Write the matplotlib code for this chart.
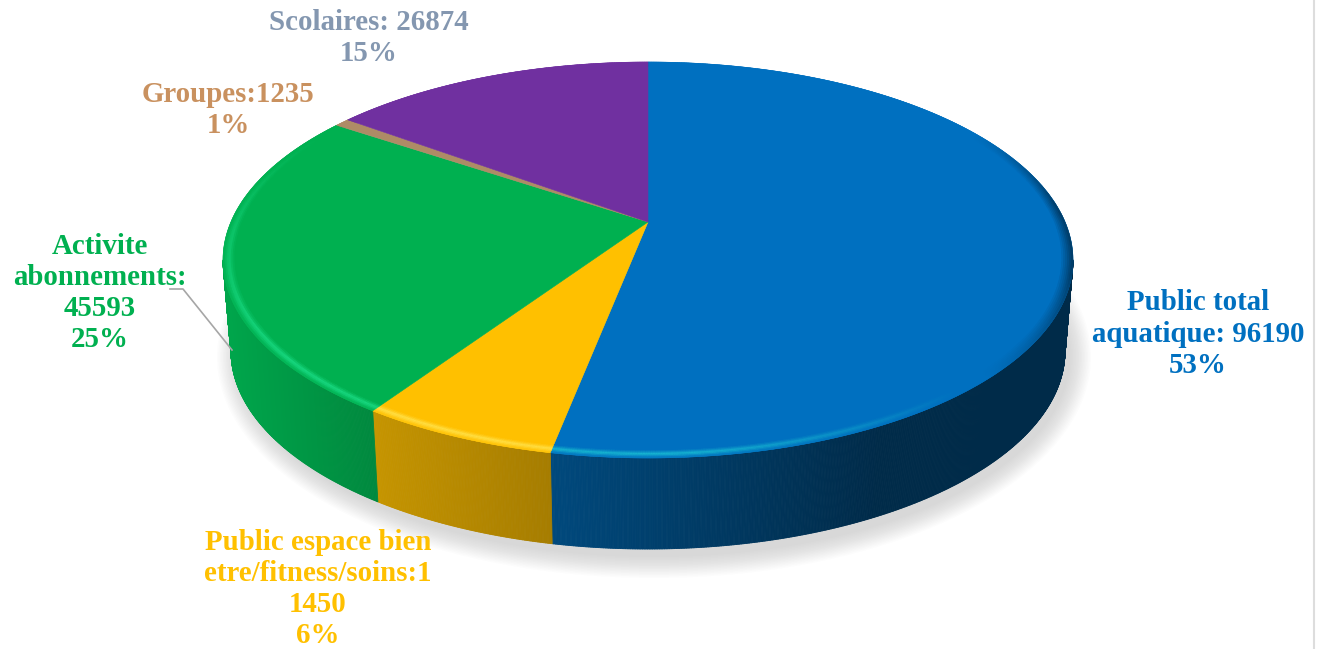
import numpy as np
import matplotlib
matplotlib.use("Agg")
import matplotlib.pyplot as plt
from matplotlib.collections import PolyCollection
from matplotlib.colors import to_rgb
from matplotlib.patches import Polygon

categories = ["Public total aquatique", "Public espace bien etre/fitness/soins",
              "Activite abonnements", "Groupes", "Scolaires"]
values = [96190, 11450, 45593, 1235, 26874]
slice_colors = ["#0070C0", "#FFC000", "#00B050", "#AE8B66", "#7030A0"]
label_texts = ["Public total\naquatique: 96190\n53%",
               "Public espace bien\netre/fitness/soins:1\n1450\n6%",
               "Activite\nabonnements:\n45593\n25%",
               "Groupes:1235\n1%",
               "Scolaires: 26874\n15%"]
label_colors = ["#0070C0", "#FFC000", "#00B050", "#C9915F", "#8497B0"]

plt.rcParams["font.family"] = ["Liberation Serif", "DejaVu Serif"]
fig = plt.figure(figsize=(13.2, 6.49), dpi=100)
ax = fig.add_axes([0, 0, 1, 1])
ax.set_xlim(0, 1320)
ax.set_ylim(649, 0)
ax.axis("off")

# perspective projection of the pie disc (pixel space)
CX, APEX_Y, TOP_Y, BOT_Y, RX = 648.0, 222.0, 62.0, 458.0, 425.0
k = (2 * APEX_Y - TOP_Y - BOT_Y) / (BOT_Y - TOP_Y)
b = BOT_Y * (1 + k) - APEX_Y
a = RX * np.sqrt(1 - k * k)
ELL_CY = (TOP_Y + BOT_Y) / 2
DEPTH = 91.0
WALL_SCALE = 417.0 / 425.0


def project(phi, r=1.0):
    X, Y = r * np.sin(phi), -r * np.cos(phi)
    w = 1 + k * Y
    return CX + a * X / w, (APEX_Y + b * Y) / w


def wall_base(phi):
    x, y = project(phi)
    return CX + (x - CX) * WALL_SCALE, y + DEPTH


edges = np.cumsum([0] + values) / sum(values) * 2 * np.pi

# soft shadow
t = np.linspace(0, 2 * np.pi, 361)
for s in np.arange(22, 0, -1.5):
    ax.add_patch(Polygon(np.c_[654 + (415 + s) * np.cos(t), 357 + (199 + s) * np.sin(t)],
                         closed=True, fc="#666666", ec="none", alpha=0.016, zorder=1))

# side wall, shaded by horizontal position
for i, col in enumerate(slice_colors):
    base = np.array(to_rgb(col))
    phis = np.linspace(edges[i], edges[i + 1], max(3, int((edges[i + 1] - edges[i]) * 300)))
    polys, cols = [], []
    for p0, p1 in zip(phis[:-1], phis[1:]):
        if -np.cos((p0 + p1) / 2) < -k:
            continue
        x0, y0 = project(p0)
        x1, y1 = project(p1)
        u0, v0 = wall_base(p0)
        u1, v1 = wall_base(p1)
        polys.append([(x0, y0), (x1, y1), (u1, v1), (u0, v0)])
        xm = (x0 + x1) / 2
        f = np.interp(xm, [225, 379, 551, 880, 1070], [0.94, 0.77, 0.65, 0.38, 0.38])
        cols.append(base * f)
    if polys:
        ax.add_collection(PolyCollection(polys, facecolors=cols, edgecolors=cols,
                                         linewidths=0.6, zorder=2))

# top surface
for i, col in enumerate(slice_colors):
    phis = np.linspace(edges[i], edges[i + 1], 200)
    x, y = project(phis)
    ax.add_patch(Polygon(np.r_[[[CX, APEX_Y]], np.c_[x, y]], closed=True,
                         fc=col, ec=col, lw=0.4, zorder=3))

# bevel along the front rim
radii = np.linspace(0.97, 1.0, 8)
profile = [0.0, 0.25, 0.6, 1.0, 0.85, 0.5, 0.2]
tint = np.array([0.12, 0.65, 0.35])
for i, col in enumerate(slice_colors):
    base = np.array(to_rgb(col))
    phis = np.linspace(edges[i], edges[i + 1], max(3, int((edges[i + 1] - edges[i]) * 200)))
    polys, cols = [], []
    for p0, p1 in zip(phis[:-1], phis[1:]):
        pm = np.degrees((p0 + p1) / 2)
        light = np.interp(pm, [100, 140, 175, 230, 270, 300], [0, 0, 0.7, 0.75, 0.4, 0])
        dark = np.interp(pm, [60, 85, 105, 135], [0, 0.45, 0.45, 0])
        for j, h in enumerate(profile):
            x00, y00 = project(p0, radii[j])
            x10, y10 = project(p1, radii[j])
            x01, y01 = project(p0, radii[j + 1])
            x11, y11 = project(p1, radii[j + 1])
            polys.append([(x00, y00), (x10, y10), (x11, y11), (x01, y01)])
            c = base + (1 - base) * light * h * tint
            d = dark * (j / 6.0)
            cols.append(np.clip(c * (1 - d), 0, 1))
    ax.add_collection(PolyCollection(polys, facecolors=cols, edgecolors=cols,
                                     linewidths=0.3, zorder=4))

# labels
label_pos = [(1198, 334), (318, 589), (100, 293), (228, 110), (369, 38)]
for txt, c, (x, y) in zip(label_texts, label_colors, label_pos):
    ax.text(x, y, txt, color=c, fontsize=20.8, fontweight="bold", ha="center",
            va="center", linespacing=1.2, zorder=6)

# leader line and page edge
ax.plot([170, 183, 232], [289, 289, 350], color="#A6A6A6", lw=1.2, zorder=5)
ax.plot([1314, 1314], [0, 649], color="#DDDDDD", lw=1.5, zorder=5)

fig.savefig("out.png", dpi=100, facecolor="white")
